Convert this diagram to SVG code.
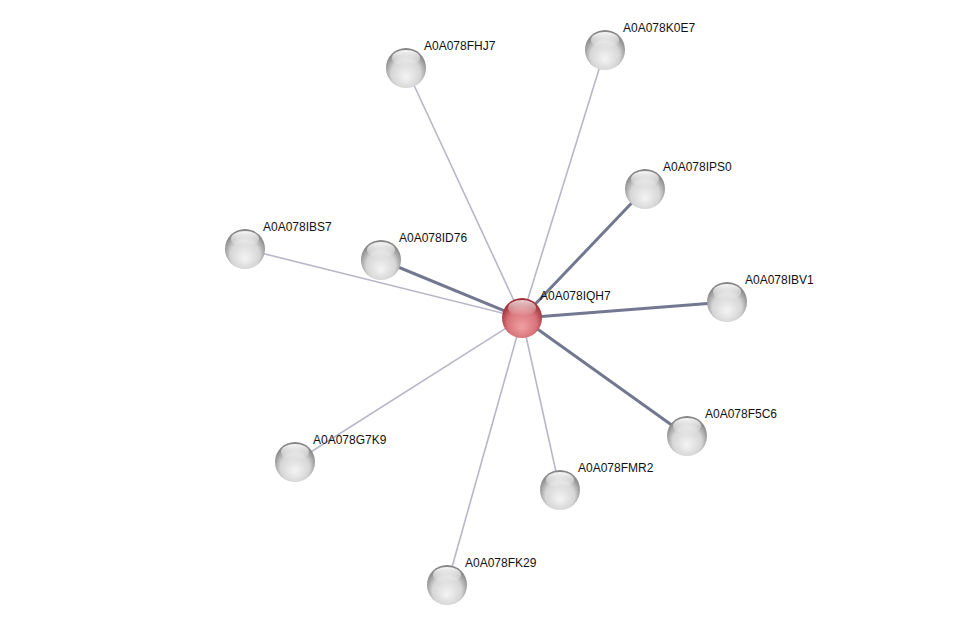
<svg xmlns="http://www.w3.org/2000/svg" width="976" height="629" viewBox="0 0 976 629">
<style>
.lbl{font-family:"Liberation Sans",Arial,sans-serif;font-size:12px;fill:#111}
.thin{stroke:#b8b6c8;stroke-width:1.6;fill:none}
.thick{stroke:#737890;stroke-width:3;fill:none}
</style>
<defs>
<radialGradient id="gGrey" cx="50%" cy="60%" r="56%" fx="50%" fy="74%">
<stop offset="0" stop-color="#f4f4f4"/>
<stop offset="0.65" stop-color="#d6d6d6"/>
<stop offset="1" stop-color="#858585"/>
</radialGradient>
<radialGradient id="gRed" cx="50%" cy="60%" r="56%" fx="50%" fy="74%">
<stop offset="0" stop-color="#f0a0a3"/>
<stop offset="0.65" stop-color="#d8747a"/>
<stop offset="1" stop-color="#9e2f38"/>
</radialGradient>
<linearGradient id="gHi" x1="0" y1="0" x2="0" y2="1">
<stop offset="0" stop-color="#fff" stop-opacity="0.95"/>
<stop offset="1" stop-color="#fff" stop-opacity="0"/>
</linearGradient>
<g id="ball">
<circle r="20" fill="url(#gGrey)"/>
<ellipse cx="0" cy="-10" rx="14" ry="8" fill="url(#gHi)"/>
</g>
<g id="ballRed">
<circle r="20" fill="url(#gRed)"/>
<ellipse cx="0" cy="-10" rx="14" ry="8" fill="url(#gHi)" opacity="0.8"/>
</g>
</defs>
<rect width="976" height="629" fill="#fff"/>
<g id="edges">
<line class="thin" x1="522" y1="318" x2="406" y2="68"/>
<line class="thin" x1="522" y1="318" x2="605" y2="50"/>
<line class="thin" x1="522" y1="318" x2="245" y2="249"/>
<line class="thin" x1="522" y1="318" x2="295" y2="462"/>
<line class="thin" x1="522" y1="318" x2="560" y2="490"/>
<line class="thin" x1="522" y1="318" x2="447" y2="585"/>
<line class="thick" x1="522" y1="318" x2="381" y2="260"/>
<line class="thick" x1="522" y1="318" x2="645" y2="189"/>
<line class="thick" x1="522" y1="318" x2="727" y2="302"/>
<line class="thick" x1="522" y1="318" x2="687" y2="436"/>
</g>
<g id="A0A078FHJ7"><use href="#ball" x="406" y="68"/><text class="lbl" x="424" y="50">A0A078FHJ7</text></g>
<g id="A0A078K0E7"><use href="#ball" x="605" y="50"/><text class="lbl" x="623" y="32">A0A078K0E7</text></g>
<g id="A0A078IPS0"><use href="#ball" x="645" y="189"/><text class="lbl" x="663" y="171">A0A078IPS0</text></g>
<g id="A0A078IBS7"><use href="#ball" x="245" y="249"/><text class="lbl" x="263" y="231">A0A078IBS7</text></g>
<g id="A0A078ID76"><use href="#ball" x="381" y="260"/><text class="lbl" x="399" y="242">A0A078ID76</text></g>
<g id="A0A078IBV1"><use href="#ball" x="727" y="302"/><text class="lbl" x="745" y="284">A0A078IBV1</text></g>
<g id="A0A078F5C6"><use href="#ball" x="687" y="436"/><text class="lbl" x="705" y="418">A0A078F5C6</text></g>
<g id="A0A078G7K9"><use href="#ball" x="295" y="462"/><text class="lbl" x="313" y="444">A0A078G7K9</text></g>
<g id="A0A078FMR2"><use href="#ball" x="560" y="490"/><text class="lbl" x="578" y="472">A0A078FMR2</text></g>
<g id="A0A078FK29"><use href="#ball" x="447" y="585"/><text class="lbl" x="465" y="567">A0A078FK29</text></g>
<g id="A0A078IQH7"><use href="#ballRed" x="522" y="318"/><text class="lbl" x="540" y="300">A0A078IQH7</text></g>
</svg>
